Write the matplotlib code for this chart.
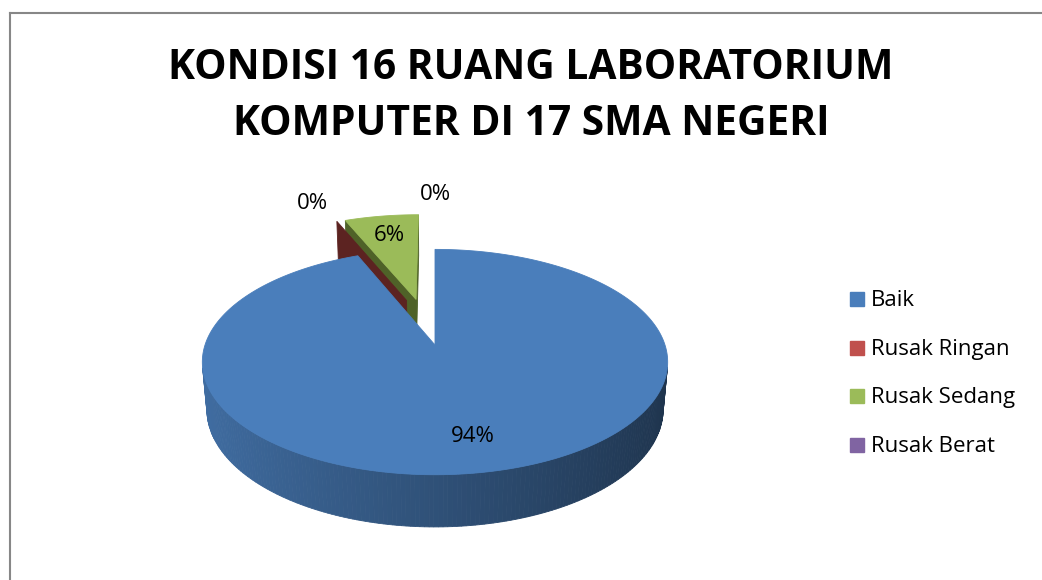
"""
3D exploded pie: kondisi ruang laboratorium komputer
"""
import numpy as np
import matplotlib.pyplot as plt
from matplotlib.patches import Polygon, Rectangle
from matplotlib.colors import to_rgb

plt.rcParams['font.family'] = ['Open Sans', 'DejaVu Sans']

title_lines = ['KONDISI 16 RUANG LABORATORIUM', 'KOMPUTER DI 17 SMA NEGERI']
labels = ['Baik', 'Rusak Ringan', 'Rusak Sedang', 'Rusak Berat']
rooms = [15, 0, 1, 0]
explode = [0.0, 0.45, 0.45, 0.45]
colors = ['#4A7EBB', '#C0504D', '#9BBB59', '#8064A2']
cut_colors = ['#2B4A70', '#5C2321', '#4F6228', '#403052']

# simple perspective camera, everything in pixel space
ELEV = np.radians(28.6)
DIST = 5.8
FOCAL = 230 * DIST
THICK = 0.237
CX, CY = 435, 345
COS, SIN = np.cos(ELEV), np.sin(ELEV)
CAM = np.array([0, -DIST * COS, DIST * SIN])
EMPTY_NUDGE = 5.5  # excel pushes empty slices a bit clockwise


def proj(u, v, z=0.0):
    depth = DIST + v * COS - z * SIN
    return CX + u * FOCAL / depth, CY - (v * SIN + z * COS) * FOCAL / depth


def unit(deg):
    # clockwise from 12 o'clock, like excel
    r = np.radians(deg)
    return np.array([np.sin(r), np.cos(r), 0.0])


def dist(pts):
    return np.linalg.norm(CAM - np.mean(pts, axis=0))


def facing(normal, pts):
    return np.dot(normal, CAM - np.mean(pts, axis=0)) > 1e-6


def wall_color(i, ang):
    u = np.sin(np.radians(ang))
    return np.clip(np.array(to_rgb(colors[i])) * (0.64 - 0.23 * u), 0, 1)


fig = plt.figure(figsize=(10.42, 5.8), dpi=100)
ax = fig.add_axes([0, 0, 1, 1])
ax.set_xlim(0, 1042)
ax.set_ylim(580, 0)
ax.axis('off')

total = sum(rooms)
bounds = np.concatenate([[0], np.cumsum(rooms)]) / total * 360
down = np.array([0, 0, THICK])

sides = []
tops = []
for i in range(len(rooms)):
    t0, t1 = bounds[i], bounds[i + 1]
    mid = (t0 + t1) / 2
    if t1 <= t0 and mid + EMPTY_NUDGE < 360:
        mid += EMPTY_NUDGE
    apex = explode[i] * unit(mid)

    # the two cut faces of the slice
    for ang, sign in ((t0, -1), (t1, 1)):
        d = unit(ang)
        normal = sign * np.array([d[1], -d[0], 0])
        pts = [apex, apex + d, apex + d - down, apex - down]
        if facing(normal, pts):
            sides.append((dist(pts), pts, cut_colors[i]))

    if t1 <= t0:
        continue
    angs = np.linspace(t0, t1, max(int(t1 - t0), 2) + 1)
    for a0, a1 in zip(angs[:-1], angs[1:]):
        p0, p1 = apex + unit(a0), apex + unit(a1)
        pts = [p0, p1, p1 - down, p0 - down]
        if facing(unit((a0 + a1) / 2), pts):
            sides.append((dist(pts), pts, wall_color(i, (a0 + a1) / 2)))
    rim = [apex + unit(a) for a in angs]
    tops.append((dist([apex] + rim), [apex] + rim, colors[i]))

for group in (sides, tops):
    for _, pts, c in sorted(group, key=lambda s: -s[0]):
        xy = [proj(*p) for p in pts]
        ax.add_patch(Polygon(xy, closed=True, facecolor=c, edgecolor=c, lw=0.6))

# data labels
for i in range(len(rooms)):
    mid = (bounds[i] + bounds[i + 1]) / 2
    r = explode[i] + (0.75 if rooms[i] > 0 else 1.28)
    x, y = proj(*(r * unit(mid)))
    ax.text(x, y, f'{100 * rooms[i] / total:.0f}%', fontsize=16,
            ha='center', va='center', color='black')

# title
ax.text(531, 79, title_lines[0], ha='center', va='baseline', fontsize=29.3, fontweight='bold')
ax.text(531, 135, title_lines[1], ha='center', va='baseline', fontsize=29.3, fontweight='bold')

# legend
for i, (lab, c) in enumerate(zip(labels, colors)):
    yb = 306 + 48.5 * i
    ax.add_patch(Rectangle((850, yb - 14), 14, 14, color=c))
    ax.text(871, yb, lab, fontsize=16, va='baseline')

# chart frame (only left and top show)
ax.plot([10, 10], [13, 580], color='#878787', lw=1.5)
ax.plot([10, 1042], [13, 13], color='#878787', lw=1.5)

fig.savefig('out.png', dpi=100)
